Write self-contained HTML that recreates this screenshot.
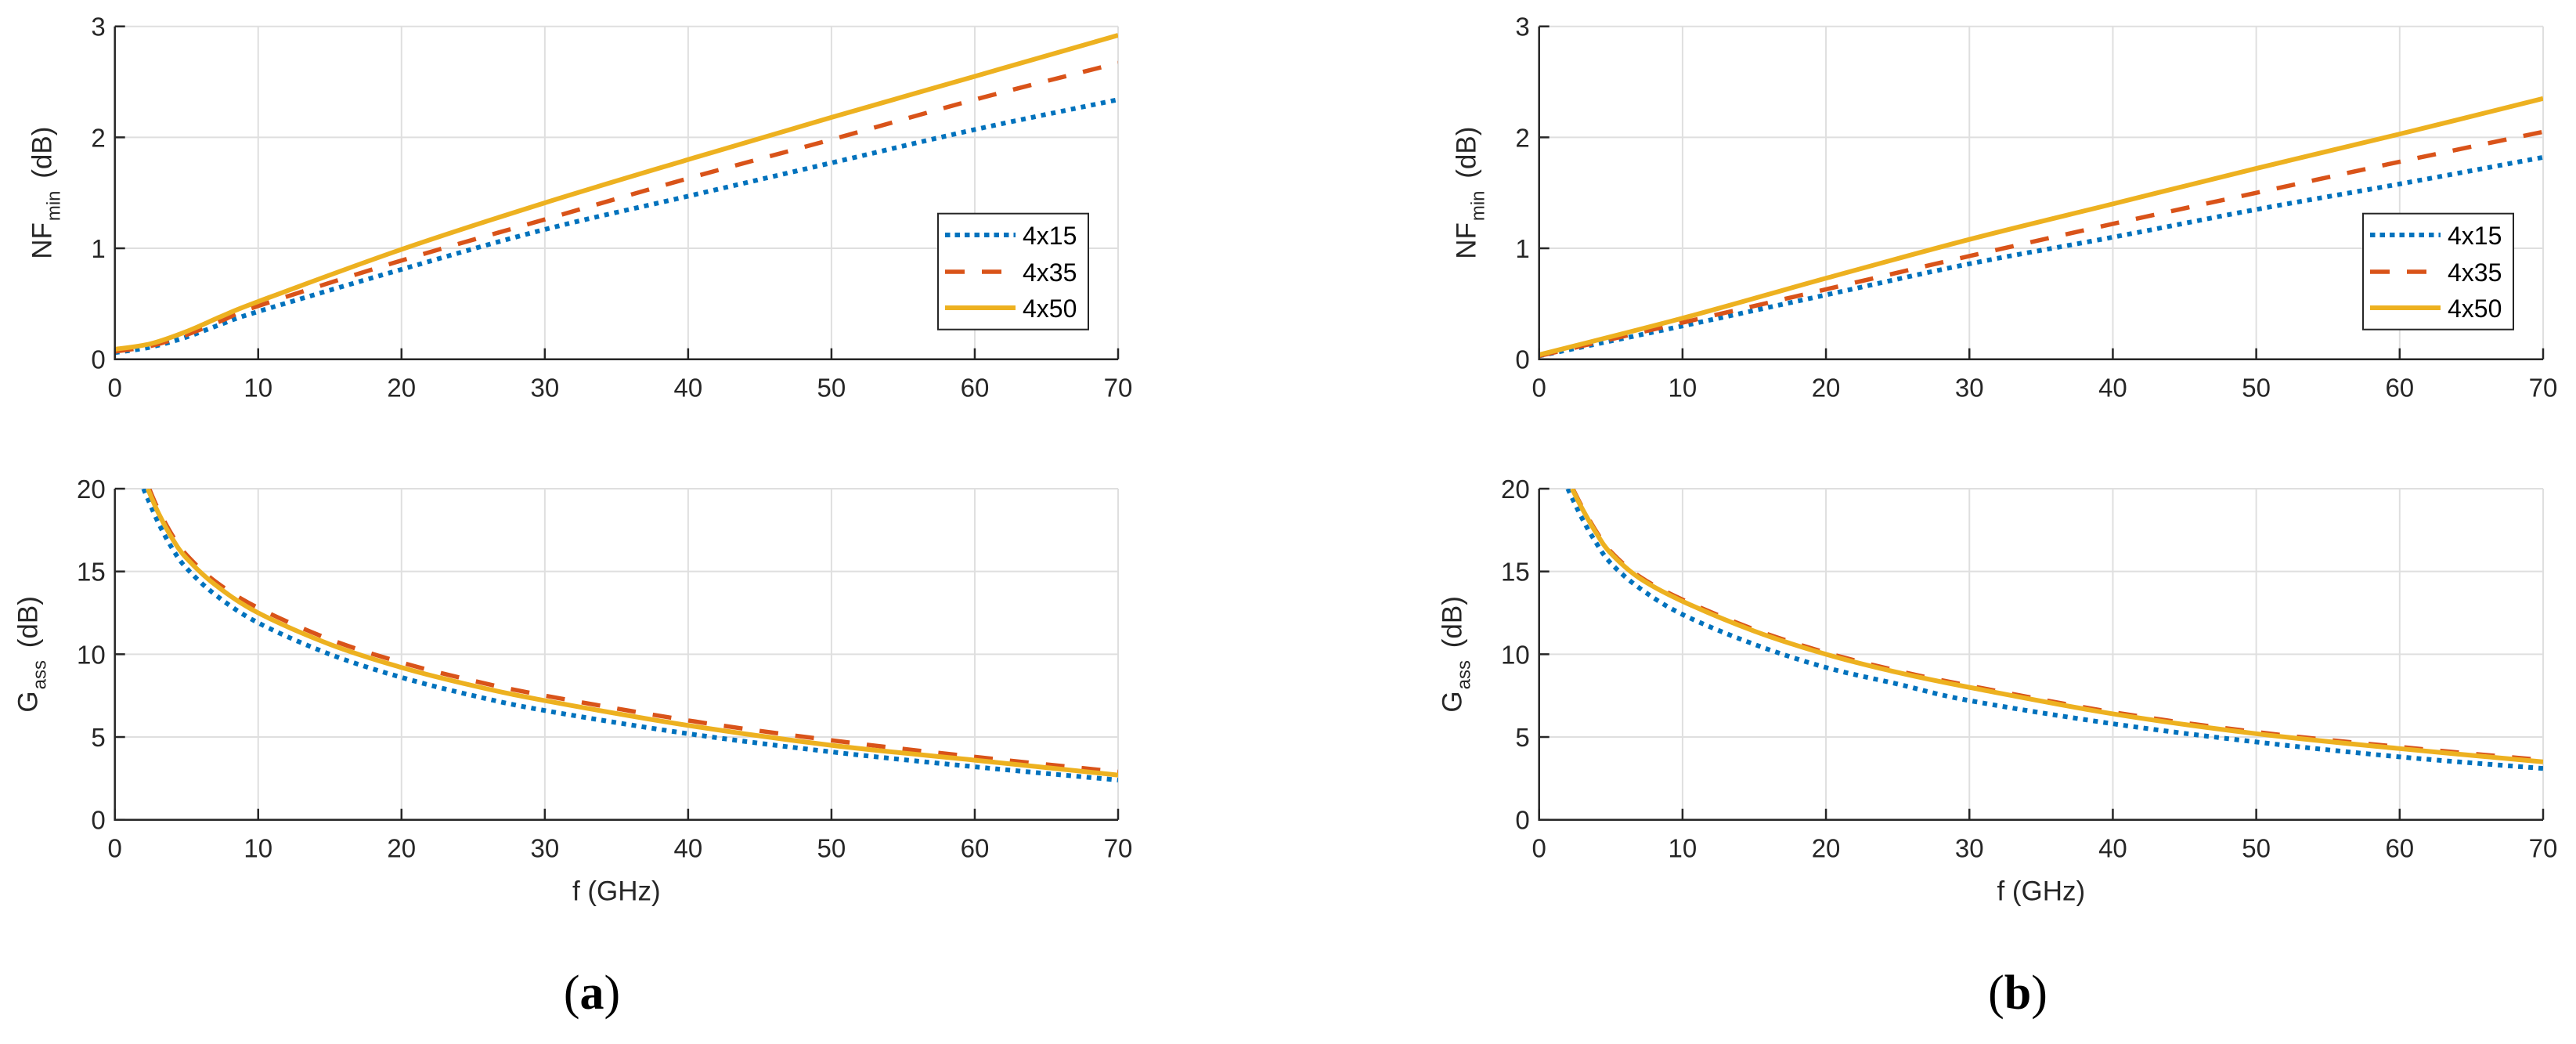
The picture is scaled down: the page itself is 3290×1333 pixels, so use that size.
<!DOCTYPE html>
<html><head><meta charset="utf-8"><style>
html,body{margin:0;padding:0;background:#fff;}
svg{display:block;font-family:"Liberation Sans",sans-serif;}
</style></head><body>
<svg id="fig" width="3290" height="1333" viewBox="0 0 3290 1333" xmlns="http://www.w3.org/2000/svg"></svg>
<script>
// ---- data ----
const seriesNames = ["4x15","4x35","4x50"];
// panel (a) NFmin
const aNF_f = [0,2.5,5,7.5,10,20,30,40,50,60,70];
const aNF_15 = [0.06,0.11,0.20,0.32,0.43,0.81,1.17,1.47,1.77,2.07,2.34];
const aNF_35 = [0.07,0.12,0.22,0.35,0.48,0.89,1.26,1.63,1.98,2.34,2.67];
const aNF_50 = [0.09,0.14,0.25,0.39,0.52,0.99,1.41,1.80,2.18,2.55,2.92];
// panel (a) Gass
const aG_f15 = [2.0,3,4,5,7,10,15,20,25,30,40,50,60,70];
const aG_15 = [20,18,16.4,15.2,13.6,11.9,10.0,8.6,7.5,6.6,5.2,4.1,3.2,2.4];
const aG_f35 = [2.4,3,4,5,7,10,15,20,25,30,40,50,60,70];
const aG_35 = [20,18.8,17.2,16.0,14.4,12.8,10.9,9.5,8.4,7.5,6.0,4.8,3.8,2.9];
const aG_f50 = [2.3,3,4,5,7,10,15,20,25,30,40,50,60,70];
const aG_50 = [20,18.6,17.0,15.8,14.2,12.5,10.6,9.2,8.1,7.2,5.7,4.5,3.6,2.7];
// panel (b) NFmin
const bNF_f = [0,10,20,30,40,50,60,70];
const bNF_15 = [0.03,0.30,0.58,0.86,1.10,1.35,1.58,1.82];
const bNF_35 = [0.03,0.33,0.63,0.93,1.22,1.50,1.78,2.05];
const bNF_50 = [0.04,0.37,0.73,1.08,1.40,1.72,2.03,2.35];
// panel (b) Gass
const bG_f15 = [2.0,3,4,5,7,10,15,20,25,30,40,50,60,70];
const bG_15 = [20,18.2,16.7,15.5,14.0,12.4,10.6,9.2,8.2,7.2,5.8,4.7,3.8,3.1];
const bG_f35 = [2.35,3,4,5,7,10,15,20,25,30,40,50,60,70];
const bG_35 = [20,18.9,17.4,16.2,14.7,13.3,11.5,10.1,9.0,8.1,6.5,5.3,4.4,3.6];
const bG_f50 = [2.3,3,4,5,7,10,15,20,25,30,40,50,60,70];
const bG_50 = [20,18.8,17.3,16.1,14.6,13.2,11.4,10.0,8.9,8.0,6.4,5.2,4.3,3.5];
const xTicks = [0,10,20,30,40,50,60,70];
const nfTicks = [0,1,2,3];
const gTicks = [0,5,10,15,20];

const NS="http://www.w3.org/2000/svg";
const svg=document.getElementById('fig');
function mk(tag,attrs,parent){const e=document.createElementNS(NS,tag);for(const k in attrs)e.setAttribute(k,attrs[k]);(parent||svg).appendChild(e);return e;}
const COLORS=["#0072bd","#d95319","#edb120"];
const DASH=["6 7","24 22",""];
const WIDTH=[6,5.5,6];
let clipId=0;

function smoothPath(pts){
  let d="M"+pts[0][0]+","+pts[0][1];
  for(let i=0;i<pts.length-1;i++){
    const p0=pts[Math.max(0,i-1)],p1=pts[i],p2=pts[i+1],p3=pts[Math.min(pts.length-1,i+2)];
    const c1=[p1[0]+(p2[0]-p0[0])/6,p1[1]+(p2[1]-p0[1])/6];
    const c2=[p2[0]-(p3[0]-p1[0])/6,p2[1]-(p3[1]-p1[1])/6];
    d+=` C${c1[0]},${c1[1]} ${c2[0]},${c2[1]} ${p2[0]},${p2[1]}`;
  }
  return d;
}

function axes(name,L,R,T,B,ymax,yTicks,series,ylabelMain,ylabelSub,ylabelX,legend,xlabel){
  const g=mk('g',{});
  
  
  const xs=v=>L+(R-L)*v/70, ys=v=>B-(B-T)*v/ymax;
  xTicks.forEach(t=>{const l=mk('line',{x1:xs(t),x2:xs(t),y1:T,y2:B,stroke:'#dfdfdf','stroke-width':2},g);
    });
  yTicks.forEach(t=>{const l=mk('line',{x1:L,x2:R,y1:ys(t),y2:ys(t),stroke:'#dfdfdf','stroke-width':2},g);
    });
  const cid='clip'+(clipId++);
  const cp=mk('clipPath',{id:cid},g);mk('rect',{x:L,y:T,width:R-L,height:B-T},cp);
  series.forEach((s,i)=>{
    const pts=s.f.map((f,j)=>[xs(f),ys(s.v[j])]);
    const p=mk('path',{d:smoothPath(pts),fill:'none',stroke:COLORS[i],'stroke-width':WIDTH[i],'clip-path':`url(#${cid})`},g);
    if(DASH[i])p.setAttribute('stroke-dasharray',DASH[i]);
    
    
  });
  const ax=mk('path',{d:`M${L},${T} V${B} H${R}`,fill:'none',stroke:'#262626','stroke-width':2.5},g);
  
  xTicks.forEach(t=>{mk('line',{x1:xs(t),x2:xs(t),y1:B,y2:B-14,stroke:'#262626','stroke-width':2.5},g);
    const tx=mk('text',{x:xs(t),y:B+48,'font-size':33,'text-anchor':'middle',fill:'#262626'},g);
    tx.textContent=t;});
  yTicks.forEach(t=>{mk('line',{x1:L,x2:L+13,y1:ys(t),y2:ys(t),stroke:'#262626','stroke-width':2.5},g);
    const tx=mk('text',{x:L-12,y:ys(t)+12,'font-size':33,'text-anchor':'end',fill:'#262626'},g);
    tx.textContent=t;});
  const cy=(T+B)/2;
  const yl=mk('text',{x:0,y:0,transform:`translate(${ylabelX},${cy}) rotate(-90)`,'font-size':35,'text-anchor':'middle',fill:'#262626'},g);
  
  const t1=mk('tspan',{},yl);t1.textContent=ylabelMain;
  const t2=mk('tspan',{dy:11,dx:2,'font-size':24},yl);t2.textContent=ylabelSub;
  const t3=mk('tspan',{dy:-11,dx:6},yl);t3.textContent=' (dB)';
  if(xlabel){const xl=mk('text',{x:(L+R)/2,y:B+103,'font-size':35,'text-anchor':'middle',fill:'#262626'},g);
    xl.textContent=xlabel;}
  if(legend){
    const lg=mk('g',{},g);
    mk('rect',{x:legend.x,y:272.7,width:192,height:148,fill:'#fff',stroke:'#262626','stroke-width':2},lg);
    [300,347,393].forEach((yy,i)=>{
      const e=mk('g',{},lg);
      const ln=mk('line',{x1:legend.x+9,x2:legend.x+99,y1:yy,y2:yy,stroke:COLORS[i],'stroke-width':WIDTH[i]},e);
      if(DASH[i])ln.setAttribute('stroke-dasharray',i==0?"6.5 6":"25 22");
      const tx=mk('text',{x:legend.x+108,y:yy+12,'font-size':32,fill:'#000'},e);tx.textContent=seriesNames[i];
    });
  }
}

function panel(pre,L,R,nfData,gData,legX,label,labX){
  axes(pre+'-nfmin-axes',L,R,33.7,458.7,3,nfTicks,nfData,'NF','min',L-81,{x:legX},'');
  axes(pre+'-gass-axes',L,R,624,1046.7,20,gTicks,gData,'G','ass',L-99,null,'f (GHz)');
  const t=mk('text',{x:labX,y:1288,'font-size':62,'text-anchor':'middle','font-family':'"Liberation Serif",serif',fill:'#000'});
  
  const a=mk('tspan',{},t);a.textContent='(';
  const b=mk('tspan',{'font-weight':'bold'},t);b.textContent=label;
  const c=mk('tspan',{},t);c.textContent=')';
}

panel('a',146.7,1428,
  [{f:aNF_f,v:aNF_15},{f:aNF_f,v:aNF_35},{f:aNF_f,v:aNF_50}],
  [{f:aG_f15,v:aG_15},{f:aG_f35,v:aG_35},{f:aG_f50,v:aG_50}],1198,'a',756);
panel('b',1965.7,3248,
  [{f:bNF_f,v:bNF_15},{f:bNF_f,v:bNF_35},{f:bNF_f,v:bNF_50}],
  [{f:bG_f15,v:bG_15},{f:bG_f35,v:bG_35},{f:bG_f50,v:bG_50}],3018,'b',2577);
</script>
</body></html>
